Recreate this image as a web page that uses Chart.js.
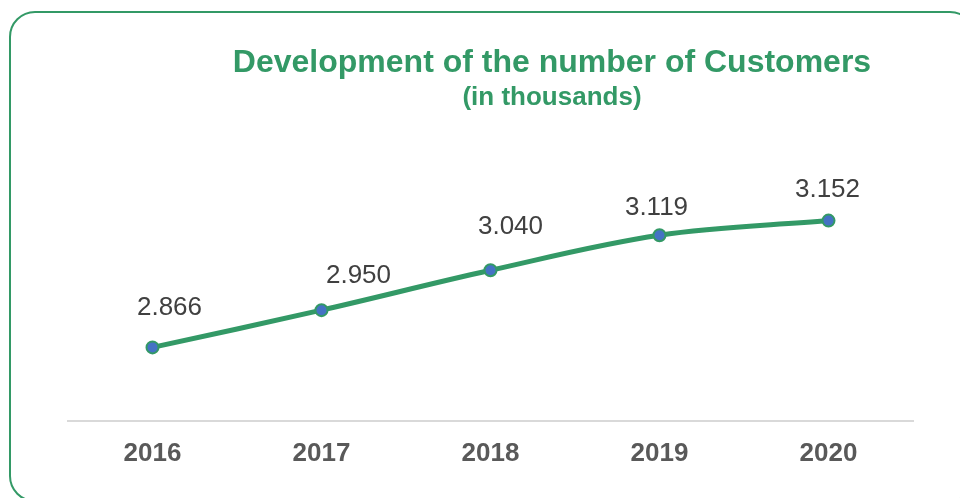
<!DOCTYPE html>
<html>
<head>
<meta charset="utf-8">
<script src="https://cdn.jsdelivr.net/npm/chart.js@4.4.1/dist/chart.umd.min.js"></script>
<style>
    html, body {
        margin: 0;
        padding: 0;
        width: 960px;
        height: 498px;
        overflow: hidden;
        background: #fff;
    }
    .frame {
        position: absolute;
        left: 9px;
        top: 11px;
        width: 967px;
        height: 491px;
        box-sizing: border-box;
        border: 2px solid #339966;
        border-radius: 26px;
    }
    #customersChart {
        position: absolute;
        left: 0;
        top: 0;
    }
</style>
</head>
<body>
<div class="frame"></div>
<canvas id="customersChart" width="960" height="498"></canvas>
<script>
// Customers per year (thousands)
const years = ['2016', '2017', '2018', '2019', '2020'];
const customers = [2866, 2950, 3040, 3119, 3152];
const valueLabels = ['2.866', '2.950', '3.040', '3.119', '3.152'];

const titleText = 'Development of the number of Customers';
const subtitleText = '(in thousands)';

const green = '#339966';
const fontFamily = '"Liberation Sans", Arial, Helvetica, sans-serif';

// Label nudges relative to each point (dx, dy)
const labelOffsets = [[17, -40], [37, -34], [20, -43], [-3, -27], [-1, -31]];

// Title and subtitle, centred over the plot
const titlePlugin = {
    id: 'titleBlock',
    afterDraw(chart) {
        const ctx = chart.ctx;
        ctx.save();
        ctx.fillStyle = green;
        ctx.textAlign = 'center';
        ctx.textBaseline = 'alphabetic';
        ctx.font = `bold 32px ${fontFamily}`;
        ctx.fillText(titleText, 552, 72);
        ctx.font = `bold 26px ${fontFamily}`;
        ctx.fillText(subtitleText, 552, 105);
        ctx.restore();
    }
};

// Value labels above each point
const valueLabelPlugin = {
    id: 'valueLabels',
    afterDatasetsDraw(chart) {
        const ctx = chart.ctx;
        const points = chart.getDatasetMeta(0).data;
        ctx.save();
        ctx.fillStyle = '#404040';
        ctx.font = `26px ${fontFamily}`;
        ctx.textAlign = 'center';
        ctx.textBaseline = 'middle';
        points.forEach((pt, i) => {
            const [dx, dy] = labelOffsets[i];
            ctx.fillText(valueLabels[i], pt.x + dx, pt.y + dy);
        });
        ctx.restore();
    }
};

const chart = new Chart(document.getElementById('customersChart'), {
    type: 'line',
    data: {
        labels: years,
        datasets: [{
            data: customers,
            borderColor: green,
            borderWidth: 5,
            tension: 0.35,
            pointRadius: 6,
            pointBorderWidth: 2,
            pointBackgroundColor: '#4472C4',
            pointBorderColor: green,
            fill: false
        }]
    },
    options: {
        responsive: false,
        animation: false,
        devicePixelRatio: 1,
        layout: {
            padding: { left: 68, right: 47, top: 155, bottom: 0 }
        },
        plugins: {
            legend: { display: false },
            tooltip: { enabled: false }
        },
        scales: {
            x: {
                type: 'category',
                offset: true,
                grid: { display: false, drawTicks: false },
                border: { display: true, color: '#d9d9d9', width: 2 },
                ticks: {
                    color: '#595959',
                    padding: 17,
                    font: { family: fontFamily, size: 26, weight: 'bold' }
                },
                afterFit(scale) {
                    scale.height = 77;
                }
            },
            y: {
                display: false,
                min: 2700,
                max: 3300
            }
        }
    },
    plugins: [titlePlugin, valueLabelPlugin]
});
</script>
</body>
</html>
